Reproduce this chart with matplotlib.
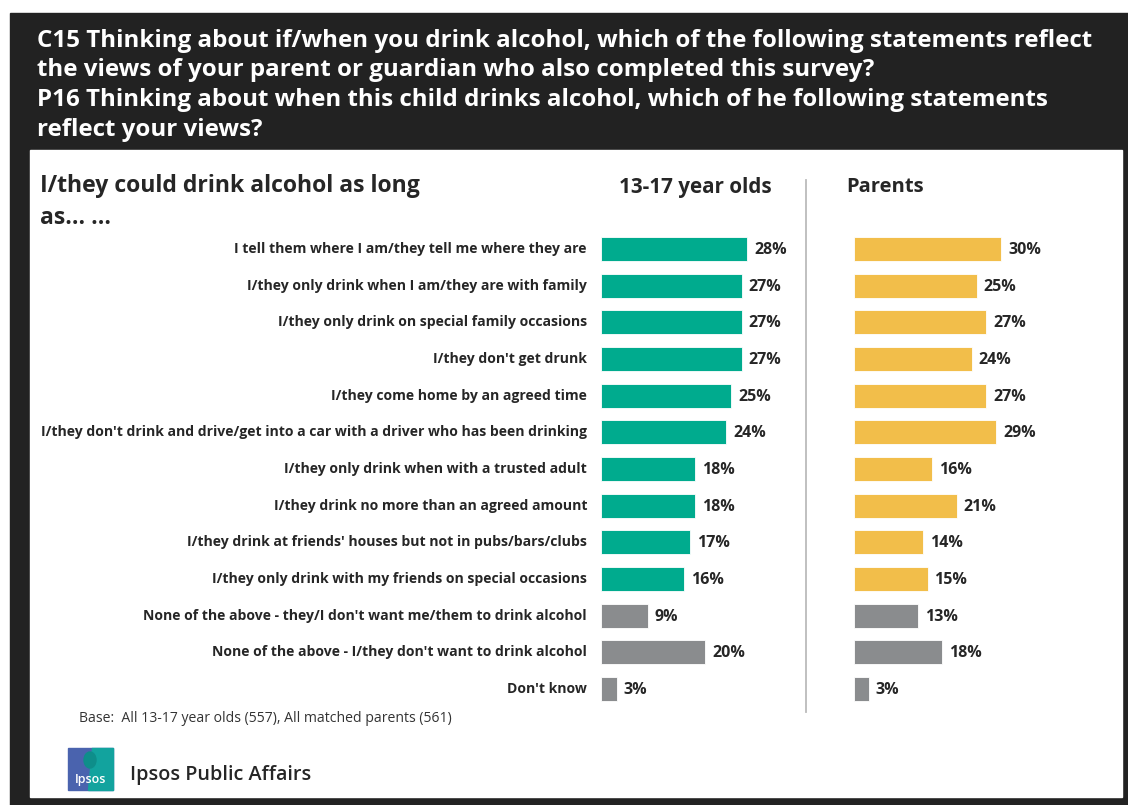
import matplotlib.pyplot as plt
from matplotlib.patches import Rectangle, Polygon, Ellipse

W, H = 1128, 805

categories = [
    "I tell them where I am/they tell me where they are",
    "I/they only drink when I am/they are with family",
    "I/they only drink on special family occasions",
    "I/they don't get drunk",
    "I/they come home by an agreed time",
    "I/they don't drink and drive/get into a car with a driver who has been drinking",
    "I/they only drink when with a trusted adult",
    "I/they drink no more than an agreed amount",
    "I/they drink at friends' houses but not in pubs/bars/clubs",
    "I/they only drink with my friends on special occasions",
    "None of the above - they/I don't want me/them to drink alcohol",
    "None of the above - I/they don't want to drink alcohol",
    "Don't know",
]
teens = [28, 27, 27, 27, 25, 24, 18, 18, 17, 16, 9, 20, 3]
parents = [30, 25, 27, 24, 27, 29, 16, 21, 14, 15, 13, 18, 3]
n_highlight = 10  # first ten rows are coloured, the rest grey

title_lines = [
    "C15 Thinking about if/when you drink alcohol, which of the following statements reflect",
    "the views of your parent or guardian who also completed this survey?",
    "P16 Thinking about when this child drinks alcohol, which of he following statements",
    "reflect your views?",
]

TEAL = "#00AB8E"
GOLD = "#F2BE4A"
GREY = "#8A8C8E"
DARK = "#222222"
TXT = "#262626"
FONT = "Open Sans"

plt.rcParams["font.family"] = [FONT, "DejaVu Sans"]


def fx(px):
    return px / W


def fy(py):
    return 1 - py / H


def px_axes(x0, y0, x1, y1, **kw):
    return fig.add_axes([fx(x0), fy(y1), (x1 - x0) / W, (y1 - y0) / H], **kw)


fig = plt.figure(figsize=(W / 100, H / 100), dpi=100)
fig.patch.set_facecolor("white")

# dark frame and white panel
fig.patches.append(Rectangle((fx(10), fy(805)), (W - 10) / W, (805 - 13) / H,
                             transform=fig.transFigure, color=DARK, zorder=-2))
fig.patches.append(Rectangle((fx(30), fy(797)), (1122 - 30) / W, (797 - 150) / H,
                             transform=fig.transFigure, color="white", zorder=-1))

for i, line in enumerate(title_lines):
    fig.text(fx(37), fy(41 + i * 29.5), line, color="white", fontsize=17.35,
             fontweight="bold", va="center", ha="left")

fig.text(fx(40), fy(186), "I/they could drink alcohol as long", fontsize=16.6,
         fontweight="bold", color=TXT, va="center")
fig.text(fx(40), fy(218), "as... ...", fontsize=16.6, fontweight="bold",
         color=TXT, va="center")
fig.text(fx(695), fy(187), "13-17 year olds", fontsize=14.9, fontweight="bold",
         color=TXT, va="center", ha="center")
fig.text(fx(846), fy(187), "Parents", fontsize=14.5, fontweight="bold",
         color=TXT, va="center", ha="left")

# separator
fig.add_artist(plt.Line2D([fx(806), fx(806)], [fy(180), fy(712)],
                          color="#BBBBBB", lw=1.3))

row0, row_gap = 249, 440 / 12
top = row0 - row_gap / 2
bottom = row0 + 12 * row_gap + row_gap / 2


def draw_panel(x0, x1, px_per_pct, values, color, show_labels):
    ax = px_axes(x0, top, x1, bottom)
    ax.set_zorder(5)
    ax.patch.set_alpha(0)
    ax.set_xlim(0, (x1 - x0) / px_per_pct)
    ax.set_ylim(len(values) - 0.5, -0.5)
    cols = [color if i < n_highlight else GREY for i in range(len(values))]
    ypos = list(range(len(values)))
    ax.barh(ypos, values, height=0.65, color=cols, edgecolor="white", linewidth=0.6)
    for y, v in zip(ypos, values):
        ax.text(v + 7 / px_per_pct, y + 0.03, f"{v}%", va="center", ha="left",
                fontsize=11.5, fontweight="bold", color=TXT)
    ax.axis("off")
    if show_labels:
        for y, lab in zip(ypos, categories):
            ax.text(-14 / px_per_pct, y, lab, va="center", ha="right",
                    fontsize=10.1, fontweight="bold", color=TXT, clip_on=False)
    return ax


draw_panel(601, 795, 146 / 28, teens, TEAL, True)
draw_panel(854, 1110, 147 / 30, parents, GOLD, False)

fig.text(fx(79), fy(718), "Base:  All 13-17 year olds (557), All matched parents (561)",
         fontsize=10.1, color="#333333", va="center")

# Ipsos logo
lx0, lx1, ly0, ly1 = 68, 113, 748, 790
fig.patches.append(Rectangle((fx(lx0), fy(ly1)), (lx1 - lx0) / W, (ly1 - ly0) / H,
                             transform=fig.transFigure, color="#4A63AE", zorder=1))
fig.patches.append(Polygon([(fx(92), fy(ly0)), (fx(lx1), fy(ly0)), (fx(lx1), fy(ly1)),
                            (fx(88), fy(ly1))], closed=True,
                           transform=fig.transFigure, color="#12A39E", zorder=2))
fig.patches.append(Ellipse((fx(90), fy(760)), 12 / W, 16 / H,
                           transform=fig.transFigure, color="#0E8E8A", zorder=3))
fig.text(fx(90.5), fy(779), "Ipsos", color="white", fontsize=9, fontweight="semibold",
         ha="center", va="center", zorder=4)
fig.text(fx(130), fy(775), "Ipsos Public Affairs", fontsize=14.2, fontweight="semibold",
         color=TXT, va="center")

fig.savefig("out.png", dpi=100)
